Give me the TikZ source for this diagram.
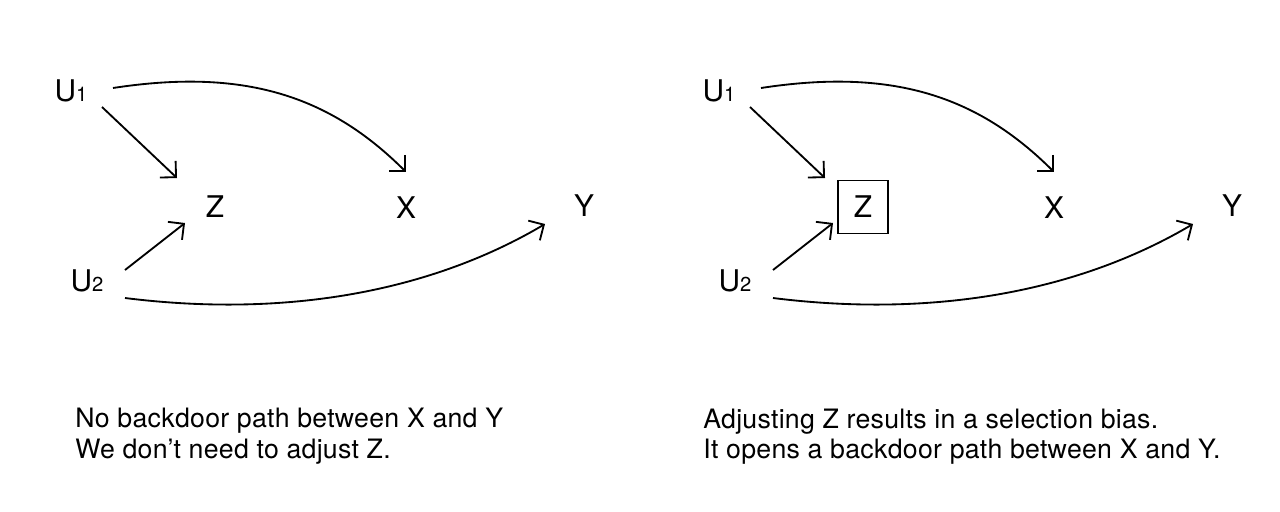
\documentclass[tikz,border=0pt]{standalone}
\usepackage{fontspec}
\setmainfont{TeX Gyre Heros}
\newfontfamily\capfont[LetterSpace=1]{TeX Gyre Heros}
\usetikzlibrary{arrows.meta,calc,positioning}

\tikzset{
  var/.style={inner sep=0pt, font=\fontsize{17pt}{20pt}\selectfont},
  adjusted/.style={var, draw, line width=0.9pt, minimum width=1cm, minimum height=1.06cm},
  edge/.style={line width=1.05pt, -{Straight Barb[length=6.5pt,width=13pt]}},
  caption/.style={anchor=base west, inner sep=0pt, font=\capfont\fontsize{15.2pt}{18pt}\selectfont},
}
\newcommand{\idx}[1]{{\fontsize{11.5pt}{13pt}\selectfont #1}}

\begin{document}
\begin{tikzpicture}[x=0.02cm, y=-0.02cm]
    \useasboundingbox (0,0) rectangle (1280,511);

    % Left graph
    \node[var] (u1L) at (71,91) {U\idx{1}};
    \node[var] (u2L) at (87,281) {U\idx{2}};
    \node[var] (zL) at (215,207) {Z};
    \node[var] (xL) at (406,208) {X};
    \node[var] (yL) at (584,206) {Y};

    \draw[edge] ($(u1L)+(31,16)$) -- ($(zL)+(-38,-29)$);
    \draw[edge] ($(u2L)+(38,-11)$) -- ($(zL)+(-30,16)$);
    \draw[edge] ($(u1L)+(42,-3)$) .. controls ($(u1L)+(172,-23)$) and ($(xL)+(-77,-113)$) .. ($(xL)+(0,-36)$);
    \draw[edge] ($(u2L)+(38,17)$) .. controls ($(u2L)+(198,37)$) and ($(yL)+(-154,86)$) .. ($(yL)+(-39,18)$);

    \node[caption] (capL1) at (75,427) {No backdoor path between X and Y};
    \node[caption] (capL2) at (75,458) {We don’t need to adjust Z.};

    % Right graph, Z adjusted
    \node[var] (u1R) at (719,91) {U\idx{1}};
    \node[var] (u2R) at (735,281) {U\idx{2}};
    \node[adjusted] (zR) at (863,207) {Z};
    \node[var] (xR) at (1054,208) {X};
    \node[var] (yR) at (1232,206) {Y};

    \draw[edge] ($(u1R)+(31,16)$) -- ($(zR)+(-38,-29)$);
    \draw[edge] ($(u2R)+(38,-11)$) -- ($(zR)+(-30,16)$);
    \draw[edge] ($(u1R)+(42,-3)$) .. controls ($(u1R)+(172,-23)$) and ($(xR)+(-77,-113)$) .. ($(xR)+(0,-36)$);
    \draw[edge] ($(u2R)+(38,17)$) .. controls ($(u2R)+(198,37)$) and ($(yR)+(-154,86)$) .. ($(yR)+(-39,18)$);

    \node[caption] (capR1) at (703,428) {Adjusting Z results in a selection bias.};
    \node[caption] (capR2) at (703,458) {It opens a backdoor path between X and Y.};
\end{tikzpicture}
\end{document}
